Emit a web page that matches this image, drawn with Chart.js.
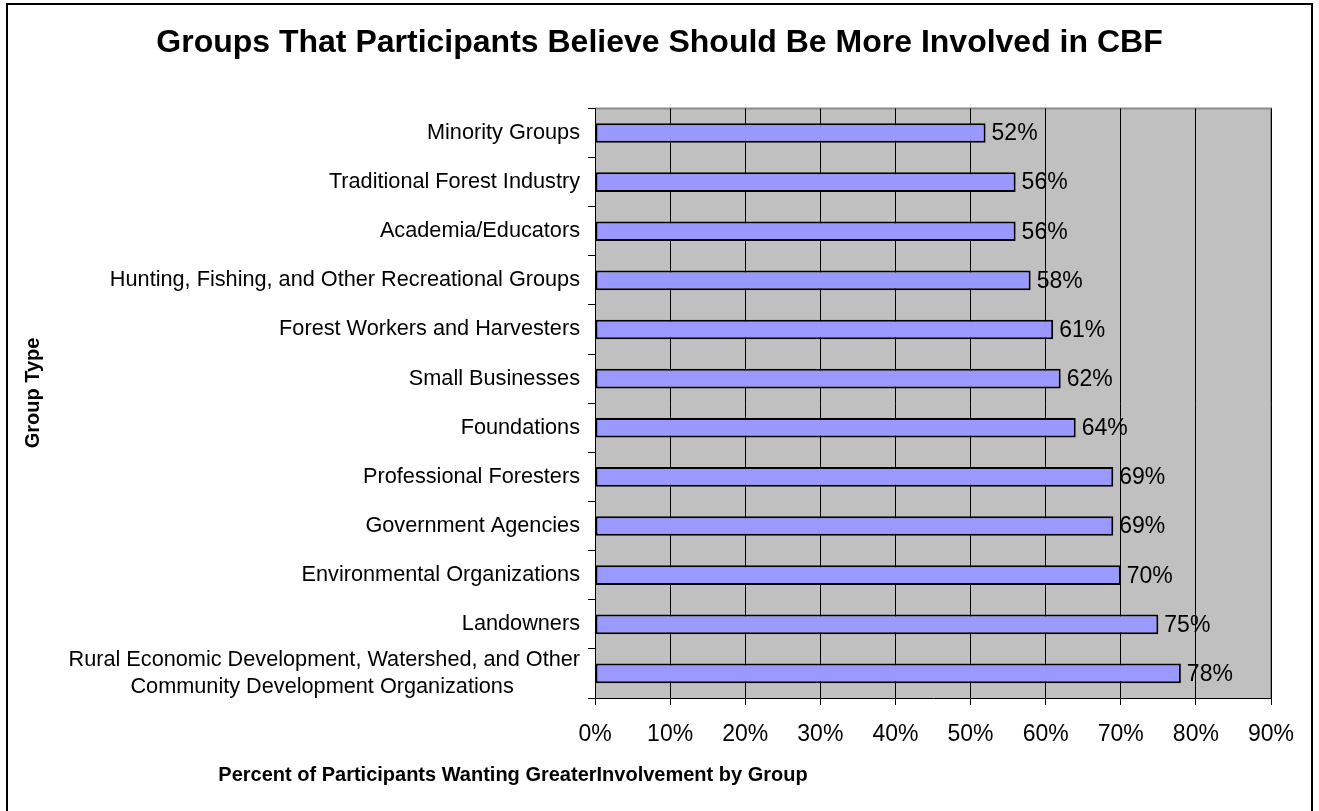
<!DOCTYPE html>
<html>
<head>
<meta charset="utf-8">
<title>Groups That Participants Believe Should Be More Involved in CBF</title>
<script src="https://cdn.jsdelivr.net/npm/chart.js@4/dist/chart.umd.min.js"></script>
<style>
  html, body { margin: 0; padding: 0; background: #fff; }
  canvas { display: block; }
</style>
</head>
<body>
<canvas id="graph" width="1319" height="811"></canvas>
<script>
const FONT = '"Liberation Sans", Arial, Helvetica, sans-serif';

// groups, top to bottom
const groups = [
  'Minority Groups',
  'Traditional Forest Industry',
  'Academia/Educators',
  'Hunting, Fishing, and Other Recreational Groups',
  'Forest Workers and Harvesters',
  'Small Businesses',
  'Foundations',
  'Professional Foresters',
  'Government Agencies',
  'Environmental Organizations',
  'Landowners',
  // second line padded so it sits centred under the first
  ['Rural Economic Development, Watershed, and Other', 'Community Development Organizations           ']
];
const percentWanting = [52, 56, 56, 58, 61, 62, 64, 69, 69, 70, 75, 78];
const xTicks = [0, 10, 20, 30, 40, 50, 60, 70, 80, 90];

// grey plot background + outer frame
const backdrop = {
  id: 'backdrop',
  beforeDraw(chart) {
    const {ctx, chartArea: a} = chart;
    ctx.save();
    ctx.fillStyle = '#c0c0c0';
    ctx.fillRect(a.left, a.top, a.right - a.left, a.bottom - a.top);
    ctx.strokeStyle = '#8c8c8c';
    ctx.lineWidth = 2;
    ctx.beginPath();
    ctx.moveTo(a.left, a.top);
    ctx.lineTo(a.right, a.top);
    ctx.lineTo(a.right, a.bottom);
    ctx.stroke();
    ctx.strokeStyle = '#000';
    ctx.lineWidth = 2;
    ctx.beginPath();
    ctx.moveTo(7, 811);
    ctx.lineTo(7, 4);
    ctx.lineTo(1312, 4);
    ctx.lineTo(1312, 811);
    ctx.stroke();
    ctx.restore();
  }
};

// value labels at bar ends, plus the two axis titles
const labels = {
  id: 'labels',
  afterDatasetsDraw(chart) {
    const {ctx} = chart;
    const meta = chart.getDatasetMeta(0);
    ctx.save();
    ctx.fillStyle = '#000';
    ctx.font = '23px ' + FONT;
    ctx.textAlign = 'left';
    ctx.textBaseline = 'middle';
    meta.data.forEach((bar, i) => {
      ctx.fillText(percentWanting[i] + '%', bar.x + 6, bar.y + 1);
    });

    ctx.font = 'bold 20px ' + FONT;
    ctx.textAlign = 'center';
    ctx.fillText('Percent of Participants Wanting GreaterInvolvement by Group', 513, 775);

    ctx.translate(33, 393);
    ctx.rotate(-Math.PI / 2);
    ctx.fillText('Group Type', 0, 0);
    ctx.restore();
  }
};

new Chart(document.getElementById('graph'), {
  type: 'bar',
  data: {
    labels: groups,
    datasets: [{
      data: percentWanting,
      backgroundColor: '#9999ff',
      borderColor: '#000',
      borderWidth: 2,
      borderSkipped: false,
      categoryPercentage: 1,
      barPercentage: 0.4
    }]
  },
  options: {
    indexAxis: 'y',
    responsive: false,
    animation: false,
    // equal side padding keeps the title centred on the canvas
    layout: { padding: { left: 48, right: 48, top: 0, bottom: 0 } },
    plugins: {
      legend: { display: false },
      tooltip: { enabled: false },
      title: {
        display: true,
        text: 'Groups That Participants Believe Should Be More Involved in CBF',
        color: '#000',
        font: { family: FONT, size: 32, weight: 'bold', lineHeight: 1.2 },
        padding: { top: 24, bottom: 46 }
      }
    },
    scales: {
      x: {
        min: 0,
        max: 90,
        afterBuildTicks(scale) {
          scale.ticks = xTicks.map(v => ({ value: v }));
        },
        afterFit(scale) { scale.height = 113; },
        grid: {
          color: '#000',
          lineWidth: 1,
          drawTicks: true,
          tickLength: 7,
          tickColor: '#000'
        },
        border: { color: '#000', width: 1 },
        ticks: {
          color: '#000',
          padding: 16,
          font: { family: FONT, size: 23 },
          callback: v => v + '%'
        }
      },
      y: {
        offset: true,
        afterFit(scale) { scale.width = 547; },
        grid: {
          offset: true,
          drawOnChartArea: false,
          drawTicks: true,
          tickLength: 7,
          tickColor: '#000'
        },
        border: { color: '#000', width: 1 },
        ticks: {
          color: '#000',
          padding: 8,
          autoSkip: false,
          font: { family: FONT, size: 21.7, lineHeight: 1.25 }
        }
      }
    }
  },
  plugins: [backdrop, labels]
});
</script>
</body>
</html>
